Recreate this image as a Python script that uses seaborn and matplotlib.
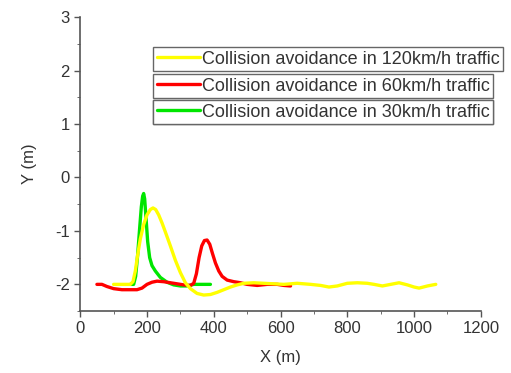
import matplotlib
matplotlib.use("Agg")
import matplotlib.pyplot as plt
import pandas as pd
import seaborn as sns

# 120 km/h trajectory
x_120 = [100, 130, 150, 158, 165, 172, 180, 190, 200, 210, 218, 226, 235, 245, 255,
         270, 285, 300, 315, 330, 350, 370, 390, 410, 430, 450, 470, 490, 520, 550,
         580, 610, 650, 690, 720, 745, 770, 800, 830, 860, 880, 905, 930, 955, 980,
         1000, 1015, 1040, 1065]
y_120 = [-2.0, -2.0, -2.0, -1.95, -1.75, -1.45, -1.15, -0.88, -0.7, -0.6, -0.57, -0.6,
         -0.7, -0.85, -1.02, -1.28, -1.55, -1.78, -1.97, -2.08, -2.17, -2.2, -2.19,
         -2.15, -2.1, -2.05, -2.01, -1.98, -1.97, -1.98, -1.99, -2.0, -1.98, -2.0,
         -2.02, -2.05, -2.03, -1.98, -1.97, -1.98, -2.0, -2.03, -2.0, -1.97, -2.01,
         -2.05, -2.07, -2.03, -2.0]

# 60 km/h trajectory
x_60 = [50, 65, 80, 100, 125, 150, 170, 185, 200, 215, 230, 250, 270, 290, 310, 330,
        340, 348, 356, 364, 372, 380, 388, 396, 405, 415, 425, 440, 460, 480, 500,
        530, 560, 590, 610, 630]
y_60 = [-2.0, -2.0, -2.04, -2.08, -2.1, -2.1, -2.1, -2.07, -2.0, -1.96, -1.94, -1.95,
        -1.97, -1.99, -2.01, -2.02, -1.98, -1.8, -1.5, -1.28, -1.18, -1.17, -1.25,
        -1.42, -1.6, -1.75, -1.85, -1.92, -1.95, -1.97, -2.0, -2.02, -2.0, -2.0,
        -2.02, -2.03]

# 30 km/h trajectory
x_30 = [150, 160, 166, 172, 178, 183, 187, 190, 193, 197, 202, 208, 215, 225, 240,
        260, 280, 300, 320, 340, 365, 390]
y_30 = [-2.0, -2.0, -1.85, -1.45, -0.95, -0.55, -0.35, -0.3, -0.4, -0.75, -1.2,
        -1.5, -1.65, -1.75, -1.87, -1.96, -2.01, -2.03, -2.03, -2.0, -2.0, -2.0]

labels = ["Collision avoidance in 120km/h traffic",
          "Collision avoidance in 60km/h traffic",
          "Collision avoidance in 30km/h traffic"]
colors = ["#ffff00", "#ff0000", "#00e600"]

sns.set_style("ticks")
plt.rcParams["font.family"] = ["Liberation Sans", "DejaVu Sans"]
plt.rcParams["axes.unicode_minus"] = False

fig = plt.figure(figsize=(5.11, 3.73), dpi=100)
ax = fig.add_axes([0.157, 0.166, 0.784, 0.788])

series = [(x_120, y_120), (x_60, y_60), (x_30, y_30)]
zorders = [4, 3, 2]
lines = []
for (xs, ys), c, z in zip(series, colors, zorders):
    df = pd.DataFrame({"x": xs, "y": ys})
    sns.lineplot(data=df, x="x", y="y", sort=False, color=c, linewidth=2.4,
                 zorder=z, ax=ax)
    lines.append(ax.lines[-1])

ax.set_xlim(0, 1200)
ax.set_ylim(-2.5, 3)
ax.set_xticks(range(0, 1201, 200))
ax.set_xticks(range(0, 1201, 100), minor=True)
ax.set_yticks(range(-2, 4))
ax.set_yticks([v / 2 for v in range(-5, 7)], minor=True)
ax.set_xlabel("X (m)", fontsize=12, color="#333333", labelpad=10)
ax.set_ylabel("Y (m)", fontsize=12, color="#333333", labelpad=13)
ax.tick_params(axis="both", labelsize=12, colors="#555555", labelcolor="#333333",
               direction="out", length=4, width=1)
ax.tick_params(which="minor", length=2.5, colors="#555555")
for s in ["left", "bottom"]:
    ax.spines[s].set_color("#555555")
    ax.spines[s].set_linewidth(1.2)
sns.despine(ax=ax)

# three separately boxed legend entries, left-aligned
ypos = [0.898, 0.806, 0.718]
for ln, lab, yp in zip(lines, labels, ypos):
    leg = ax.legend([ln], [lab], loc="upper left", bbox_to_anchor=(0.182, yp),
                    fontsize=13, frameon=True, fancybox=False, framealpha=1,
                    borderpad=0.2, handlelength=2.4, handletextpad=0.1,
                    borderaxespad=0)
    leg.get_frame().set_edgecolor("#666666")
    leg.get_frame().set_linewidth(1.0)
    for t in leg.get_texts():
        t.set_color("#333333")
    ax.add_artist(leg)

fig.savefig("out.png", dpi=100)
